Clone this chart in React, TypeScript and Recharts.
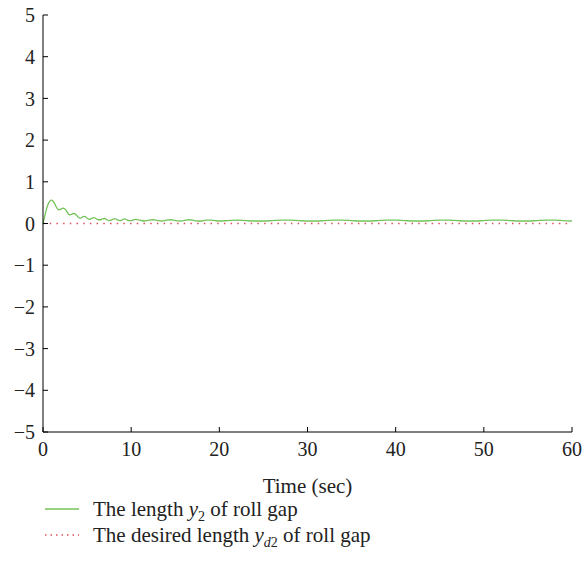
import { LineChart, Line, XAxis, YAxis } from "recharts";

const TIME = [
  0, 0.25, 0.5, 0.75, 1, 1.25, 1.5, 1.75, 2, 2.25, 2.5, 2.75, 3, 3.25, 3.5, 3.75,
  4, 4.25, 4.5, 4.75, 5, 5.25, 5.5, 5.75, 6, 6.25, 6.5, 6.75, 7, 7.25, 7.5, 7.75,
  8, 8.25, 8.5, 8.75, 9, 9.25, 9.5, 9.75, 10, 10.5, 11, 11.5, 12, 12.5, 13, 13.5,
  14, 14.5, 15, 15.5, 16, 16.5, 17, 17.5, 18, 18.5, 19, 19.5, 20, 21, 22, 23, 24,
  25, 26, 27, 28, 29, 30, 31, 32, 33, 34, 35, 36, 37, 38, 39, 40, 41, 42, 43, 44,
  45, 46, 47, 48, 49, 50, 51, 52, 53, 54, 55, 56, 57, 58, 59, 60,
];

// roll gap length y2
const Y2 = [
  0, 0.22, 0.42, 0.53, 0.56, 0.5, 0.4, 0.33, 0.34, 0.37, 0.35, 0.27, 0.21, 0.22, 0.24, 0.21,
  0.15, 0.13, 0.16, 0.17, 0.13, 0.1, 0.12, 0.14, 0.12, 0.09, 0.09, 0.11, 0.12, 0.09, 0.07, 0.08,
  0.11, 0.11, 0.08, 0.07, 0.09, 0.11, 0.09, 0.07, 0.07, 0.1, 0.08, 0.06, 0.08, 0.09, 0.07, 0.06,
  0.08, 0.09, 0.07, 0.06, 0.07, 0.09, 0.08, 0.06, 0.06, 0.08, 0.08, 0.07, 0.06, 0.07, 0.08, 0.07, 0.06,
  0.06, 0.07, 0.08, 0.08, 0.07, 0.06, 0.06, 0.07, 0.08, 0.08, 0.07, 0.06, 0.06, 0.07, 0.08, 0.08,
  0.07, 0.06, 0.06, 0.07, 0.08, 0.08, 0.07, 0.06, 0.06, 0.07, 0.08, 0.08, 0.07, 0.06, 0.06, 0.07,
  0.08, 0.08, 0.07, 0.06,
];

// desired length yd2
const YD2 = TIME.map(() => 0);

const X_TICKS = [0, 10, 20, 30, 40, 50, 60];
const Y_TICKS = [-5, -4, -3, -2, -1, 0, 1, 2, 3, 4, 5];

const data = TIME.map((t, i) => ({ t, y2: Y2[i], yd2: YD2[i] }));

const FONT = "'Liberation Serif', 'DejaVu Serif', serif";
const GREEN = "#74c35a";
const RED = "#e0505a";
const tickStyle = { fontSize: 20, fill: "#222", fontFamily: FONT, style: { fontFamily: FONT } };

export default function App() {
  return (
    <div style={{ position: "absolute", left: 0, top: 0, width: 584, height: 573, background: "#fff", fontFamily: FONT }}>
      <LineChart width={584} height={502} data={data} margin={{ top: 15, right: 12, bottom: 0, left: 0 }} style={{ fontFamily: FONT }}>
        <XAxis
          dataKey="t"
          type="number"
          domain={[0, 60]}
          ticks={X_TICKS}
          tickSize={-5}
          tickMargin={15}
          height={70}
          stroke="#000"
          tick={tickStyle}
          label={{ value: "Time (sec)", position: "insideBottom", offset: 9, style: { fontSize: 21, fill: "#222", fontFamily: FONT } }}
        />
        <XAxis xAxisId="top" orientation="top" type="number" domain={[0, 60]} ticks={X_TICKS} tickSize={-5} height={0} stroke="#000" tick={false} />
        <YAxis
          type="number"
          domain={[-5, 5]}
          ticks={Y_TICKS}
          tickSize={-5}
          tickMargin={13}
          width={43}
          stroke="#000"
          tick={tickStyle}
          tickFormatter={(v: number) => (v < 0 ? `\u2212${-v}` : `${v}`)}
        />
        <YAxis yAxisId="right" orientation="right" type="number" domain={[-5, 5]} ticks={Y_TICKS} tickSize={-5} width={0} stroke="#000" tick={false} />
        <Line dataKey="yd2" stroke={RED} strokeWidth={1.3} strokeDasharray="1.5 5.2" dot={false} isAnimationActive={false} />
        <Line dataKey="y2" type="monotone" stroke={GREEN} strokeWidth={1.3} dot={false} isAnimationActive={false} />
      </LineChart>
      <div style={{ position: "absolute", left: 45, top: 496, fontSize: 21, color: "#222", lineHeight: "26px" }}>
        <div style={{ display: "flex", alignItems: "center", height: 26 }}>
          <svg width={34} height={4} style={{ marginRight: 14 }}>
            <line x1={0} y1={2} x2={34} y2={2} stroke={GREEN} strokeWidth={1.3} />
          </svg>
          <span>
            The length <i>y</i><sub style={{ fontSize: 14, lineHeight: 0 }}>2</sub> of roll gap
          </span>
        </div>
        <div style={{ display: "flex", alignItems: "center", height: 26 }}>
          <svg width={34} height={4} style={{ marginRight: 14 }}>
            <line x1={0} y1={2} x2={34} y2={2} stroke={RED} strokeWidth={1.3} strokeDasharray="1.5 4" />
          </svg>
          <span>
            The desired length <i>y</i><sub style={{ fontSize: 14, lineHeight: 0 }}><i>d</i>2</sub> of roll gap
          </span>
        </div>
      </div>
    </div>
  );
}
